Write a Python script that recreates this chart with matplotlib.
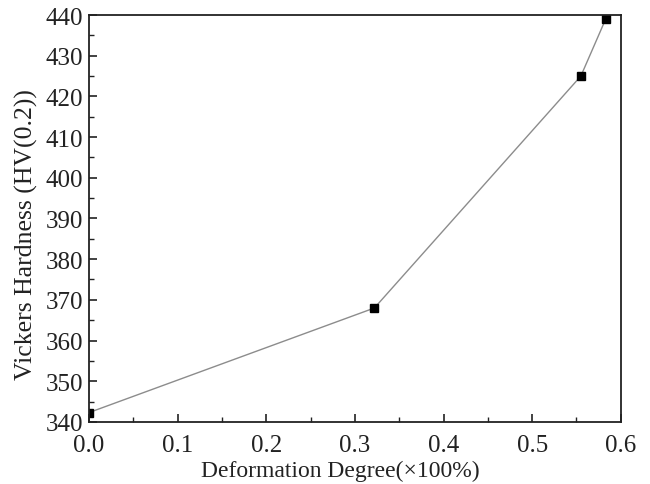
import numpy as np
import matplotlib.pyplot as plt

# data
deformation = [0.0, 0.322, 0.555, 0.583]
hardness = [342.3, 368.0, 425.0, 439.0]

xticks = [0.0, 0.1, 0.2, 0.3, 0.4, 0.5, 0.6]
yticks = [340, 350, 360, 370, 380, 390, 400, 410, 420, 430, 440]

plt.rcParams['font.family'] = ['Liberation Serif', 'DejaVu Serif']

fig = plt.figure(figsize=(6.5, 4.85), dpi=100)
ax = fig.add_axes([0.137, 0.128, 0.818, 0.839])

ax.plot(deformation, hardness, color='#8c8c8c', linewidth=1.0,
        marker='s', markersize=6, markerfacecolor='black',
        markeredgecolor='black')

ax.set_xlim(0.0, 0.6)
ax.set_ylim(340, 440)
ax.set_xticks(xticks)
ax.set_yticks(yticks)
ax.set_xticklabels(['%.1f' % t for t in xticks])
ax.set_xticks(np.arange(0.05, 0.6, 0.1), minor=True)
ax.set_yticks(np.arange(345, 440, 10), minor=True)

ax.tick_params(which='both', direction='in', top=False, right=False,
               labelsize=18, colors='#222222')
ax.tick_params(axis='x', pad=8.5)
ax.tick_params(axis='y', pad=4)
ax.tick_params(which='major', length=6, width=1.2)
ax.tick_params(which='minor', length=3.5, width=1.0)
for s in ax.spines.values():
    s.set_linewidth(1.3)
    s.set_color('#222222')

ax.set_xlabel('Deformation Degree(\u00d7100%)', fontsize=17, labelpad=3,
              color='#222222', x=0.472)
ax.set_ylabel('Vickers Hardness (HV(0.2))', fontsize=18.5, labelpad=6,
              color='#222222', y=0.464)

fig.savefig('out.png', dpi=100)
